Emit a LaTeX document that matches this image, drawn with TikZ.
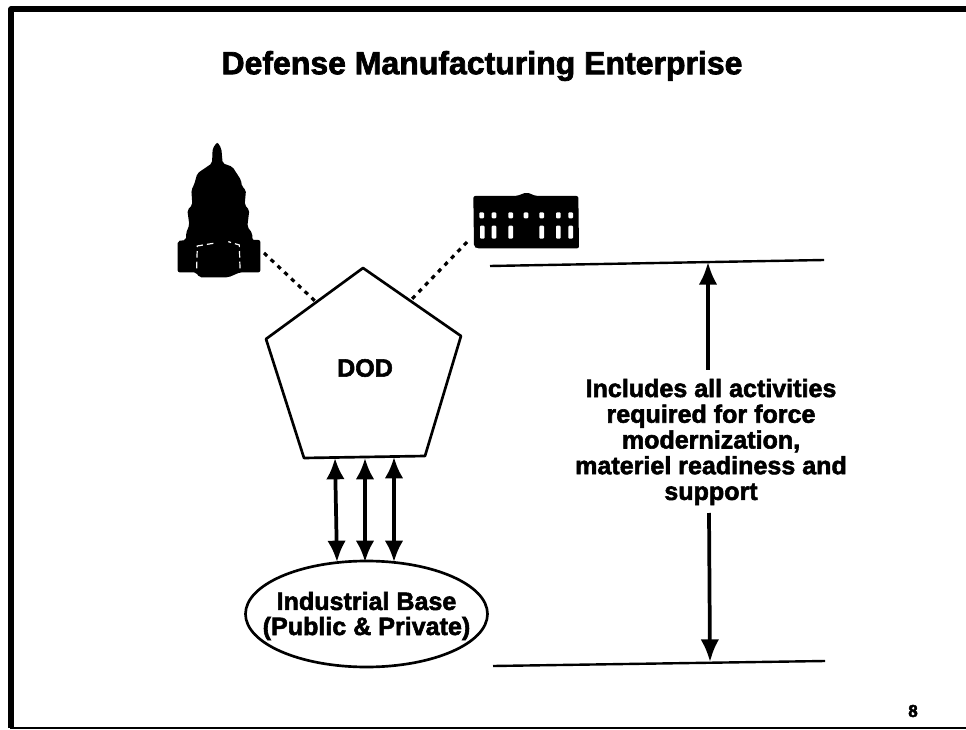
\documentclass[tikz,border=0pt]{standalone}
\usepackage{fontspec}
\setmainfont[BoldFeatures={FakeBold=2.2}]{Liberation Sans}
\usetikzlibrary{arrows.meta}
\tikzset{
  px/.style={x=0.75pt,y=-0.75pt},
  lab/.style={align=center,inner sep=0pt,font=\fontsize{18.8pt}{19.3pt}\selectfont\bfseries},
  outline/.style={draw=black,line width=2pt,line join=round},
  thin rule/.style={draw=black,line width=1.8pt},
  dotted link/.style={draw=black,line width=2.4pt,dash pattern=on 3.2pt off 3.8pt},
  link/.style={draw=black,line width=2.8pt,{Latex[length=16pt,width=14pt]}-{Latex[length=16pt,width=14pt]}},
  onearrow/.style={draw=black,line width=2.8pt,-{Latex[length=17pt,width=14pt]}},
  win/.style={fill=white,draw=none,rounded corners=0.8pt},
}
\begin{document}
\begin{tikzpicture}[px]
\useasboundingbox (0,0) rectangle (966,730);
\fill[white] (0,0) rectangle (966,730);
% frame
\draw[black,line width=3.8pt,line join=round] (966,9) -- (11,9) -- (11,728);
\draw[black,line width=1.8pt] (10,728) -- (966,728);
% title
\node[inner sep=0pt,font=\fontsize{24pt}{26pt}\selectfont\bfseries] (title) at (482,66) {Defense Manufacturing Enterprise};
% capitol
\begin{scope}[shift={(160,130)},x=0.25pt,y=-0.25pt]
\fill[black,rounded corners=1.5pt] (172,36)--(184,55)--(188,100)--(217,110)--(243,150)--(246,170)--(258,180)--(254,225)--(268,240)--(262,290)--(277,310)--(277,330)--(301,330)--(301,427)--(240,427)--(205,442)--(118,442)--(108,427)--(53,427)--(53,333)--(78,330)--(78,310)--(88,285)--(82,240)--(97,225)--(94,180)--(102,165)--(112,130)--(156,100)--(158,55)--cycle;
\draw[white,line width=0.9pt,dash pattern=on 5pt off 3pt] (110,415)--(112,348)--(160,340);
\draw[white,line width=0.9pt,dash pattern=on 5pt off 3pt] (240,415)--(238,345)--(205,335);
\end{scope}
\coordinate (capitolport) at (264,253);
% white house
\begin{scope}[shift={(460,180)},x=0.25pt,y=-0.25pt]
\fill[black,rounded corners=1.5pt] (40,48)--(170,48)--(200,37)--(228,48)--(355,48)--(357,205)--(50,205)--(42,200)--cycle;
\foreach \wx in {65,102,152,198,245,295,332} \fill[win] (\wx-7,97) rectangle (\wx+7,115);
\foreach \wx in {67,102,152,245,295,332} \fill[win] (\wx-7,137) rectangle (\wx+7,176);
\end{scope}
\coordinate (houseport) at (467,242);
% pentagon
\coordinate (pT) at (363,268);
\coordinate (pL) at (266,339);
\coordinate (pR) at (461,336);
\coordinate (pBL) at (304,458);
\coordinate (pBR) at (425,456);
\draw[outline] (pT)--(pR)--(pBR)--(pBL)--(pL)--cycle;
\node[lab] (dod) at (365,368) {DOD};
\coordinate (capitolend) at (315,301);
\coordinate (houseend) at (412,299);
\draw[dotted link] (capitolport) -- (capitolend);
\draw[dotted link] (houseport) -- (houseend);
% ellipse
\draw[outline] (366.5,614) ellipse [x radius=121,y radius=53];
\node[lab,font=\fontsize{18.8pt}{18.8pt}\selectfont\bfseries] (base) at (366.5,616) {Industrial Base\\(Public \& Private)};
\coordinate (a1t) at (335,458);\coordinate (a1b) at (337,562);
\coordinate (a2t) at (365,458);\coordinate (a2b) at (365,562);
\coordinate (a3t) at (394,457);\coordinate (a3b) at (394,562);
\draw[link] (a1t) -- (a1b);
\draw[link] (a2t) -- (a2b);
\draw[link] (a3t) -- (a3b);
% dimension
\coordinate (t1) at (490,266);\coordinate (t2) at (824,260);
\coordinate (b1) at (493,666);\coordinate (b2) at (825,661);
\draw[thin rule] (t1)--(t2);
\draw[thin rule] (b1)--(b2);
\coordinate (dimT) at (708,262);
\coordinate (dimB) at (710,662);
\node[lab] (txt) at (711,442) {Includes all activities\\required for force\\modernization,\\materiel readiness and\\support};
\draw[onearrow] (708,370) -- (dimT);
\draw[onearrow] (709,513) -- (dimB);
% page number
\node[inner sep=0pt,font=\fontsize{13pt}{14pt}\selectfont\bfseries] (page) at (913,711) {8};
\end{tikzpicture}
\end{document}
